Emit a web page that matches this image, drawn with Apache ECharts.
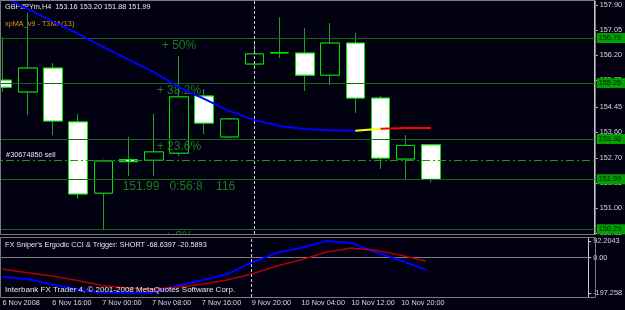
<!DOCTYPE html>
<html>
<head>
<meta charset="utf-8">
<title>GBPJPYm,H4</title>
<script src="https://cdn.jsdelivr.net/npm/echarts@6/dist/echarts.min.js"></script>
<style>
  html, body { margin: 0; padding: 0; background: #000010; overflow: hidden; }
  /* the first bar is cut by the left edge, so the canvas starts 10px off screen */
  #main { position: absolute; left: -10px; top: 0; width: 635px; height: 310px; }
</style>
</head>
<body>
<div id="main"></div>
<script>
// H4 bars, the first label only shows the date
var barTimes = ['6 Nov 2008', '6 Nov 12:00', '6 Nov 16:00', '6 Nov 20:00', '7 Nov 00:00', '7 Nov 04:00',
    '7 Nov 08:00', '7 Nov 12:00', '7 Nov 16:00', '7 Nov 20:00', '9 Nov 20:00', '10 Nov 00:00',
    '10 Nov 04:00', '10 Nov 08:00', '10 Nov 12:00', '10 Nov 16:00', '10 Nov 20:00', '11 Nov 00:00'];
// empty slots on the right (chart shift)
var futureTimes = ['11 Nov 04:00', '11 Nov 08:00', '11 Nov 12:00', '11 Nov 16:00', '11 Nov 20:00', '12 Nov 00:00'];

var opens  = [155.36, 154.96, 155.77, 153.94, 151.52, 152.66, 152.64, 152.88, 154.82, 153.43, 155.91, 156.29, 156.28, 155.53, 156.62, 154.75, 152.68, 153.16];
var highs  = [156.82, 157.64, 155.94, 154.21, 152.66, 153.43, 154.21, 156.18, 155.06, 154.07, 156.62, 157.50, 157.13, 157.30, 156.96, 154.82, 153.49, 153.20];
var lows   = [154.96, 154.17, 153.49, 151.32, 150.29, 152.10, 152.10, 152.78, 153.53, 153.42, 155.77, 156.11, 154.99, 155.19, 154.24, 152.34, 151.99, 151.88];
var closes = [155.12, 155.77, 153.97, 151.49, 152.61, 152.59, 152.92, 154.79, 153.90, 154.04, 156.25, 156.29, 155.53, 156.62, 154.75, 152.71, 153.14, 151.99];

// xpMA_v9 - T3MA(13)
var t3ma = [158.20, 157.78, 157.35, 156.93, 156.48, 156.06, 155.63, 155.12, 154.72, 154.31, 154.00, 153.80, 153.70, 153.66, 153.64, 153.71, 153.73, 153.73];

var fibLevels = [150.29, 153.36, 155.26, 156.79];
var fibNames = ['+ 0%', '+ 23.6%', '+ 38.2%', '+ 50%'];
var bidPrice = 151.99;
var bidText = '151.99   0:56:8    116';
var orderPrice = 152.64;
var orderName = '#30674850 sell';
var priceTicks = [157.90, 157.05, 156.20, 155.35, 154.45, 153.60, 152.70, 151.85, 151.00, 150.15];

// FX Sniper's Ergodic CCI & Trigger
var ergodic = [-108.2, -119.3, -150.0, -177.8, -195.5, -197.258, -196.0, -157.0, -126.6, -93.0, -28.0, 25.4, 54.9, 92.2043, 81.0, 29.3, -17.5, -68.6397];
var trigger = [-63.7, -84.8, -102.6, -128.2, -155.0, -169.4, -175.0, -165.0, -148.8, -124.9, -91.5, -47.0, -11.9, 31.0, 53.2, 40.0, 12.6, -20.5893];
var cciTicks = [92.2043, 0, -197.258];
var cciTickText = ['92.2043', '0.00', '-197.258'];

var bg = '#000010';
var font = '"Liberation Sans", Arial, sans-serif';
var small = 7.3;
var fibGreen = '#166816';
var off = 10; // canvas offset
var last = barTimes.length - 1;

var allTimes = barTimes.concat(futureTimes);
var candleData = opens.map(function (o, i) { return [o, closes[i], lows[i], highs[i]]; });
var bodyData = opens.map(function (o, i) {
    return [o, closes[i], Math.min(o, closes[i]), Math.max(o, closes[i])];
});
// T3 line changes colour at the end
function part(from, to) {
    return t3ma.map(function (v, i) { return (i >= from && i <= to) ? v : '-'; });
}

var levelLines = fibLevels.concat([bidPrice]).map(function (v) {
    return {
        yAxis: v,
        lineStyle: { color: fibGreen, width: 1, type: 'solid' },
        label: {
            show: true, position: 'end', distance: 2,
            formatter: v.toFixed(2),
            backgroundColor: '#00a000', color: '#001400',
            fontSize: small, fontFamily: font, padding: [2, 6, 1, 2]
        }
    };
});
levelLines.push({
    yAxis: orderPrice,
    lineStyle: { color: '#1a9a1a', width: 1, type: [8, 3, 2, 3] },
    label: { show: false }
});
var separator = {
    xAxis: barTimes[10],
    lineStyle: { color: '#cfcfcf', width: 1, type: [3, 2] },
    label: { show: false }
};
levelLines.push(separator);

var textPoints = fibLevels.map(function (v, i) {
    return { coord: [barTimes[7], v], label: { formatter: fibNames[i] } };
});
textPoints.push({ coord: [barTimes[7], bidPrice], label: { formatter: bidText } });
textPoints.push({
    coord: [barTimes[0], orderPrice],
    label: { formatter: orderName, position: 'right', distance: 3, offset: [0, -5],
        color: '#e6e6e6', fontSize: small, fontFamily: font }
});

function caption(x, y, text, color, size, z) {
    return {
        type: 'text', z: z, x: x + off, y: y,
        style: { text: text, fill: color, font: size + 'px ' + font, verticalAlign: 'middle' }
    };
}

var chart = echarts.init(document.getElementById('main'));
var option = {
    backgroundColor: bg,
    animation: false,
    grid: [
        { left: 0, right: 29.5, top: 1, height: 233 },
        { left: 0, right: 29.5, top: 238, height: 59 }
    ],
    xAxis: [
        { gridIndex: 0, type: 'category', data: allTimes, boundaryGap: true, show: false },
        {
            gridIndex: 1, type: 'category', data: allTimes, boundaryGap: true,
            axisLine: { lineStyle: { color: '#9a9a9a', type: 'dotted' } },
            axisTick: {
                alignWithLabel: true, length: 3, lineStyle: { color: '#9a9a9a' },
                interval: function (i) { return i % 2 === 0 && i > 0 && i < barTimes.length; }
            },
            axisLabel: {
                interval: function (i) { return i % 2 === 0 && i < barTimes.length; },
                align: 'left', color: '#d8d8d8', fontSize: small, fontFamily: font, margin: 2
            },
            splitLine: { show: false }
        }
    ],
    yAxis: [
        {
            gridIndex: 0, type: 'value', position: 'right', min: 150.13, max: 158.05,
            axisLine: { show: true, lineStyle: { color: '#c8c8c8' } },
            axisTick: { show: true, length: 3, customValues: priceTicks, lineStyle: { color: '#c8c8c8' } },
            axisLabel: {
                customValues: priceTicks, margin: 5, color: '#d8d8d8', fontSize: small, fontFamily: font,
                formatter: function (v) { return v.toFixed(2); }
            },
            splitLine: { show: false }
        },
        {
            gridIndex: 1, type: 'value', position: 'right', min: -219.5, max: 108.9,
            axisLine: { show: true, lineStyle: { color: '#c8c8c8' } },
            axisTick: { show: true, length: 3, customValues: cciTicks, lineStyle: { color: '#c8c8c8' } },
            axisLabel: {
                customValues: cciTicks, margin: 5, color: '#d8d8d8', fontSize: small, fontFamily: font,
                formatter: function (v) {
                    for (var i = 0; i < cciTicks.length; i++) {
                        if (Math.abs(cciTicks[i] - v) < 1e-6) return cciTickText[i];
                    }
                    return '';
                }
            },
            splitLine: { show: false }
        }
    ],
    series: [
        {
            name: 'wicks', type: 'candlestick', xAxisIndex: 0, yAxisIndex: 0,
            data: candleData, barWidth: 19,
            itemStyle: { color: bg, color0: '#ffffff', borderColor: '#1fa01f', borderColor0: '#1fa01f', borderWidth: 1 },
            markLine: { silent: true, symbol: 'none', data: levelLines },
            markPoint: {
                silent: true, symbol: 'rect', symbolSize: 1,
                itemStyle: { color: 'rgba(0,0,0,0)' },
                label: { position: 'bottom', distance: 1, color: '#1e7b1e', fontSize: 12, fontFamily: font },
                data: textPoints
            }
        },
        {
            name: 'bodies', type: 'candlestick', xAxisIndex: 0, yAxisIndex: 0,
            data: bodyData, barWidth: 19,
            itemStyle: { color: bg, color0: '#ffffff', borderColor: '#00e600', borderColor0: '#00e600', borderWidth: 1 }
        },
        {
            name: 'T3MA', type: 'line', xAxisIndex: 0, yAxisIndex: 0, data: part(0, 14),
            showSymbol: false, lineStyle: { color: '#0000ff', width: 2 }, z: 5
        },
        {
            name: 'T3MA flat', type: 'line', xAxisIndex: 0, yAxisIndex: 0, data: part(14, 15),
            showSymbol: false, lineStyle: { color: '#ffff00', width: 2 }, z: 5
        },
        {
            name: 'T3MA down', type: 'line', xAxisIndex: 0, yAxisIndex: 0, data: part(15, last),
            showSymbol: false, lineStyle: { color: '#ff0000', width: 2 }, z: 5
        },
        {
            name: 'Ergodic', type: 'line', xAxisIndex: 1, yAxisIndex: 1, data: ergodic,
            showSymbol: false, lineStyle: { color: '#0000ff', width: 2 },
            markLine: { silent: true, symbol: 'none', data: [separator] }
        },
        {
            name: 'Trigger', type: 'line', xAxisIndex: 1, yAxisIndex: 1, data: trigger,
            showSymbol: false, lineStyle: { color: '#b00000', width: 1.5 }
        }
    ],
    graphic: [
        // hide the part of "+ 0%" that falls below the main pane
        { type: 'rect', z: 50, shape: { x: 140 + off, y: 235, width: 80, height: 12 }, style: { fill: bg } },
        { type: 'rect', z: 51, shape: { x: 0.5 + off, y: 0.5, width: 595, height: 234 }, style: { fill: null, stroke: '#7a7a7a', lineWidth: 1 } },
        { type: 'rect', z: 51, shape: { x: 0.5 + off, y: 237.5, width: 595, height: 60 }, style: { fill: null, stroke: '#7a7a7a', lineWidth: 1 } },
        // the T3 line runs over the header text
        caption(5, 7, 'GBPJPYm,H4  ' + [opens[last], highs[last], lows[last], closes[last]].map(function (v) { return v.toFixed(2); }).join(' '), '#e8e8e8', small, 1),
        caption(5, 24, 'xpMA_v9 - T3MA(13)', '#e8920a', small, 1),
        caption(5, 245, "FX Sniper's Ergodic CCI & Trigger: SHORT " + ergodic[last].toFixed(4) + ' ' + trigger[last].toFixed(4), '#e8e8e8', small, 52),
        caption(5, 290, 'Interbank FX Trader 4, \u00a9 2001-2008 MetaQuotes Software Corp.', '#e8e8e8', 8, 52)
    ]
};
chart.setOption(option);
</script>
</body>
</html>
